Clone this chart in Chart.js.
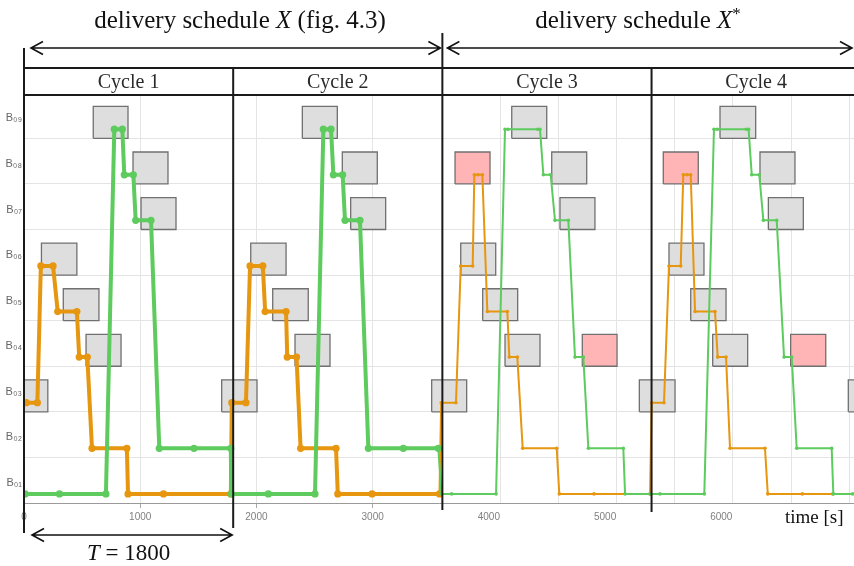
<!DOCTYPE html>
<html>
<head>
<meta charset="utf-8">
<script src="https://cdn.jsdelivr.net/npm/chart.js@4/dist/chart.umd.min.js"></script>
<style>
html, body { margin: 0; padding: 0; background: #fff; }
#wrap { width: 854px; height: 566px; }
</style>
</head>
<body>
<div id="wrap"><canvas id="chart" width="854" height="566"></canvas></div>
<script>
const C_ORANGE = '#e6960f';
const C_GREEN = '#5dcb5d';
const C_BOX = '#dedede';
const C_LATE = '#ffb5b5';
const C_GRID = '#e4e4e4';
const SERIF = '"Liberation Serif", "Times New Roman", serif';

// tick labels
const bayLabels = ['B₀₁', 'B₀₂', 'B₀₃', 'B₀₄', 'B₀₅', 'B₀₆', 'B₀₇', 'B₀₈', 'B₀₉'];
const timeTicks = [0, 1000, 2000, 3000, 4000, 5000, 6000, 7000];
const starGrid = [4100, 4600, 5100, 5600, 6100, 6600, 7100];
const cycleBounds = [0, 1800, 3600, 5400, 7200];
const cycleNames = ['Cycle 1', 'Cycle 2', 'Cycle 3', 'Cycle 4'];

// orange vehicle route: time [s] and bay
const orangeTime = [20, 115, 145, 250, 290, 455, 475, 545, 585, 885, 895, 1200, 1780,
  1788, 1910, 1945, 2055, 2075, 2255, 2265, 2345, 2380, 2685, 2700, 2995, 3575,
  3590, 3717, 3758, 3861, 3875, 3907, 3944, 3987, 4159, 4176, 4245, 4291, 4584, 4606, 4905, 5387,
  5401, 5507, 5550, 5651, 5673, 5705, 5737, 5774, 5946, 5969, 6041, 6075, 6376, 6400, 6697, 6959];
const orangeBay = [3, 3, 6, 6, 5, 5, 4, 4, 2, 2, 1, 1, 1,
  3, 3, 6, 6, 5, 5, 4, 4, 2, 2, 1, 1, 1,
  3, 3, 6, 6, 8, 8, 8, 5, 5, 4, 4, 2, 2, 1, 1, 1,
  3, 3, 6, 6, 8, 8, 8, 5, 5, 4, 4, 2, 2, 1, 1, 1];

// green vehicle route
const greenTime = [10, 305, 705, 777, 846, 863, 941, 961, 1093, 1164, 1463, 1779, 1785,
  2102, 2504, 2576, 2642, 2662, 2742, 2762, 2891, 2963, 3264, 3565,
  3592, 3680, 4062, 4139, 4165, 4420, 4440, 4469, 4532, 4569, 4684, 4741, 4813, 4856, 5157, 5172, 5387,
  5473, 5854, 5937, 5965, 6215, 6235, 6262, 6327, 6362, 6477, 6540, 6606, 6649, 6950, 6964, 7130];
const greenBay = [1, 1, 1, 9, 9, 8, 8, 7, 7, 2, 2, 2, 1,
  1, 1, 9, 9, 8, 8, 7, 7, 2, 2, 2,
  1, 1, 1, 9, 9, 9, 9, 8, 8, 7, 7, 4, 4, 2, 2, 1, 1,
  1, 1, 9, 9, 9, 9, 8, 8, 7, 7, 4, 4, 2, 2, 1, 1];

// delivery windows [bay, start, end]
const grayBoxes = [
  [3, -100, 205], [6, 150, 455], [5, 338, 645], [4, 534, 835], [9, 596, 895], [8, 938, 1239], [7, 1007, 1308],
  [3, 1701, 2005], [6, 1951, 2255], [5, 2140, 2446], [4, 2332, 2633], [9, 2395, 2696], [8, 2739, 3040], [7, 2811, 3112],
  [3, 3508, 3809], [6, 3758, 4059], [5, 3947, 4248], [4, 4139, 4440], [9, 4197, 4498], [8, 4541, 4842], [7, 4612, 4913],
  [3, 5295, 5602], [6, 5550, 5851], [5, 5737, 6041], [4, 5926, 6227], [9, 5989, 6296], [8, 6333, 6634], [7, 6405, 6706],
  [3, 7093, 7400]
];
const redBoxes = [[8, 3709, 4010], [4, 4804, 5103], [8, 5501, 5802], [4, 6597, 6899]];

const SPLIT = 3588; // schedule X* is drawn with thinner lines

function route(label, times, bays, color, order) {
  return {
    label: label,
    order: order,
    data: times.map((t, i) => ({ x: t, y: bays[i] })),
    borderColor: color,
    backgroundColor: color,
    borderWidth: 4,
    pointBackgroundColor: color,
    pointBorderWidth: 0,
    pointRadius: c => (c.parsed && c.parsed.x >= SPLIT ? 1.8 : 3.6),
    borderJoinStyle: 'round',
    borderCapStyle: 'round',
    segment: { borderWidth: c => (c.p1.parsed.x >= SPLIT ? 2 : 4) },
    fill: false
  };
}

function box(b, color) {
  const lo = b[0] - 0.2, hi = b[0] + 0.5;
  return {
    order: 5,
    data: [{ x: b[1], y: lo }, { x: b[2], y: lo }, { x: b[2], y: hi }, { x: b[1], y: hi }, { x: b[1], y: lo }],
    borderColor: '#707070',
    borderWidth: 1.3,
    backgroundColor: color,
    fill: 'shape',
    pointRadius: 0
  };
}

function arrow(ctx, x1, x2, y) {
  ctx.beginPath();
  ctx.moveTo(x1, y); ctx.lineTo(x2, y);
  ctx.moveTo(x1 + 12, y - 6.5); ctx.lineTo(x1, y); ctx.lineTo(x1 + 12, y + 6.5);
  ctx.moveTo(x2 - 12, y - 6.5); ctx.lineTo(x2, y); ctx.lineTo(x2 - 12, y + 6.5);
  ctx.stroke();
}

function runs(ctx, parts, cx, y) {
  let w = 0;
  parts.forEach(p => { ctx.font = p[1]; w += ctx.measureText(p[0]).width; });
  let x = cx - w / 2;
  parts.forEach(p => {
    ctx.font = p[1];
    ctx.fillText(p[0], x, y + (p[2] || 0));
    x += ctx.measureText(p[0]).width;
  });
}

const frame = {
  id: 'frame',
  afterDraw(chart) {
    const ctx = chart.ctx;
    const a = chart.chartArea;
    const x = chart.scales.x;
    const px = cycleBounds.map(v => x.getPixelForValue(v));
    ctx.save();
    ctx.strokeStyle = '#1a1a1a';
    ctx.fillStyle = '#111';
    ctx.textBaseline = 'alphabetic';
    ctx.textAlign = 'left';

    // cycle header
    ctx.lineWidth = 1.8;
    ctx.beginPath();
    ctx.moveTo(a.left, 68); ctx.lineTo(a.right, 68);
    ctx.moveTo(a.left, a.top); ctx.lineTo(a.right, a.top);
    ctx.stroke();

    // cycle boundaries
    const tops = [48, 68, 33, 68];
    const bottoms = [533, 528, 510, 512];
    ctx.lineWidth = 2;
    for (let i = 0; i < 4; i++) {
      ctx.beginPath();
      ctx.moveTo(px[i], tops[i]);
      ctx.lineTo(px[i], bottoms[i]);
      ctx.stroke();
    }

    ctx.fillStyle = '#2a2a2a';
    for (let i = 0; i < 4; i++) {
      runs(ctx, [[cycleNames[i], '20px ' + SERIF]], (px[i] + px[i + 1]) / 2, 88);
    }

    // schedule arrows and titles
    ctx.lineWidth = 1.6;
    ctx.strokeStyle = '#111';
    arrow(ctx, px[0] + 7, px[2] - 2, 48);
    arrow(ctx, px[2] + 5, a.right - 2, 48);
    ctx.fillStyle = '#111';
    runs(ctx, [['delivery schedule ', '25px ' + SERIF], ['X', 'italic 25px ' + SERIF], [' (fig. 4.3)', '25px ' + SERIF]], 240, 28);
    runs(ctx, [['delivery schedule ', '25px ' + SERIF], ['X', 'italic 25px ' + SERIF], ['*', '17px ' + SERIF, -9]], 638, 28);

    // cycle length
    arrow(ctx, px[0] + 8, px[1] - 1, 535);
    runs(ctx, [['T', 'italic 23px ' + SERIF], [' = 1800', '23px ' + SERIF]], (px[0] + px[1]) / 2, 560);

    ctx.font = '19px ' + SERIF;
    ctx.fillText('time [s]', 785, 523);
    ctx.restore();
  }
};

Chart.defaults.font.family = '"Liberation Sans", "DejaVu Sans", sans-serif';

const datasets = [
  route('green', greenTime, greenBay, C_GREEN, 0),
  route('orange', orangeTime, orangeBay, C_ORANGE, 1)
];
grayBoxes.forEach(b => datasets.push(box(b, C_BOX)));
redBoxes.forEach(b => datasets.push(box(b, C_LATE)));

new Chart(document.getElementById('chart'), {
  type: 'line',
  data: { datasets: datasets },
  options: {
    responsive: false,
    animation: false,
    events: [],
    layout: { autoPadding: false, padding: { top: 95, left: 0, right: 0, bottom: 0 } },
    plugins: { legend: { display: false }, tooltip: { enabled: false } },
    scales: {
      x: {
        type: 'linear',
        min: 0,
        max: 7142,
        afterBuildTicks: s => { s.ticks = timeTicks.map(v => ({ value: v })); },
        afterFit: s => { s.height = 63; },
        ticks: {
          callback: v => (v === 7000 ? '' : String(v)),
          color: '#808080',
          font: { size: 10 },
          padding: 3,
          maxRotation: 0,
          autoSkip: false
        },
        grid: {
          color: c => (c.tick && c.tick.value > 0 && c.tick.value < 3600 ? C_GRID : 'rgba(0,0,0,0)'),
          tickColor: c => (c.tick && c.tick.value < 3600 ? '#aaa' : 'rgba(0,0,0,0)'),
          tickLength: 5
        },
        border: { color: '#9a9a9a', width: 1 }
      },
      x2: {
        type: 'linear',
        position: 'top',
        min: 0,
        max: 7142,
        afterBuildTicks: s => { s.ticks = starGrid.map(v => ({ value: v })); },
        afterFit: s => { s.height = 0; },
        ticks: { display: false },
        grid: { color: C_GRID, drawTicks: false },
        border: { display: false }
      },
      y: {
        type: 'linear',
        min: 0.8,
        max: 9.75,
        afterBuildTicks: s => { s.ticks = bayLabels.map((l, i) => ({ value: i + 0.8 })); },
        afterFit: s => { s.width = 24; },
        ticks: {
          callback: (v, i) => bayLabels[i],
          labelOffset: -20,
          padding: 2,
          color: '#666',
          font: { size: 11 },
          autoSkip: false
        },
        grid: { color: C_GRID, drawTicks: false },
        border: { display: false }
      }
    }
  },
  plugins: [frame]
});
</script>
</body>
</html>
